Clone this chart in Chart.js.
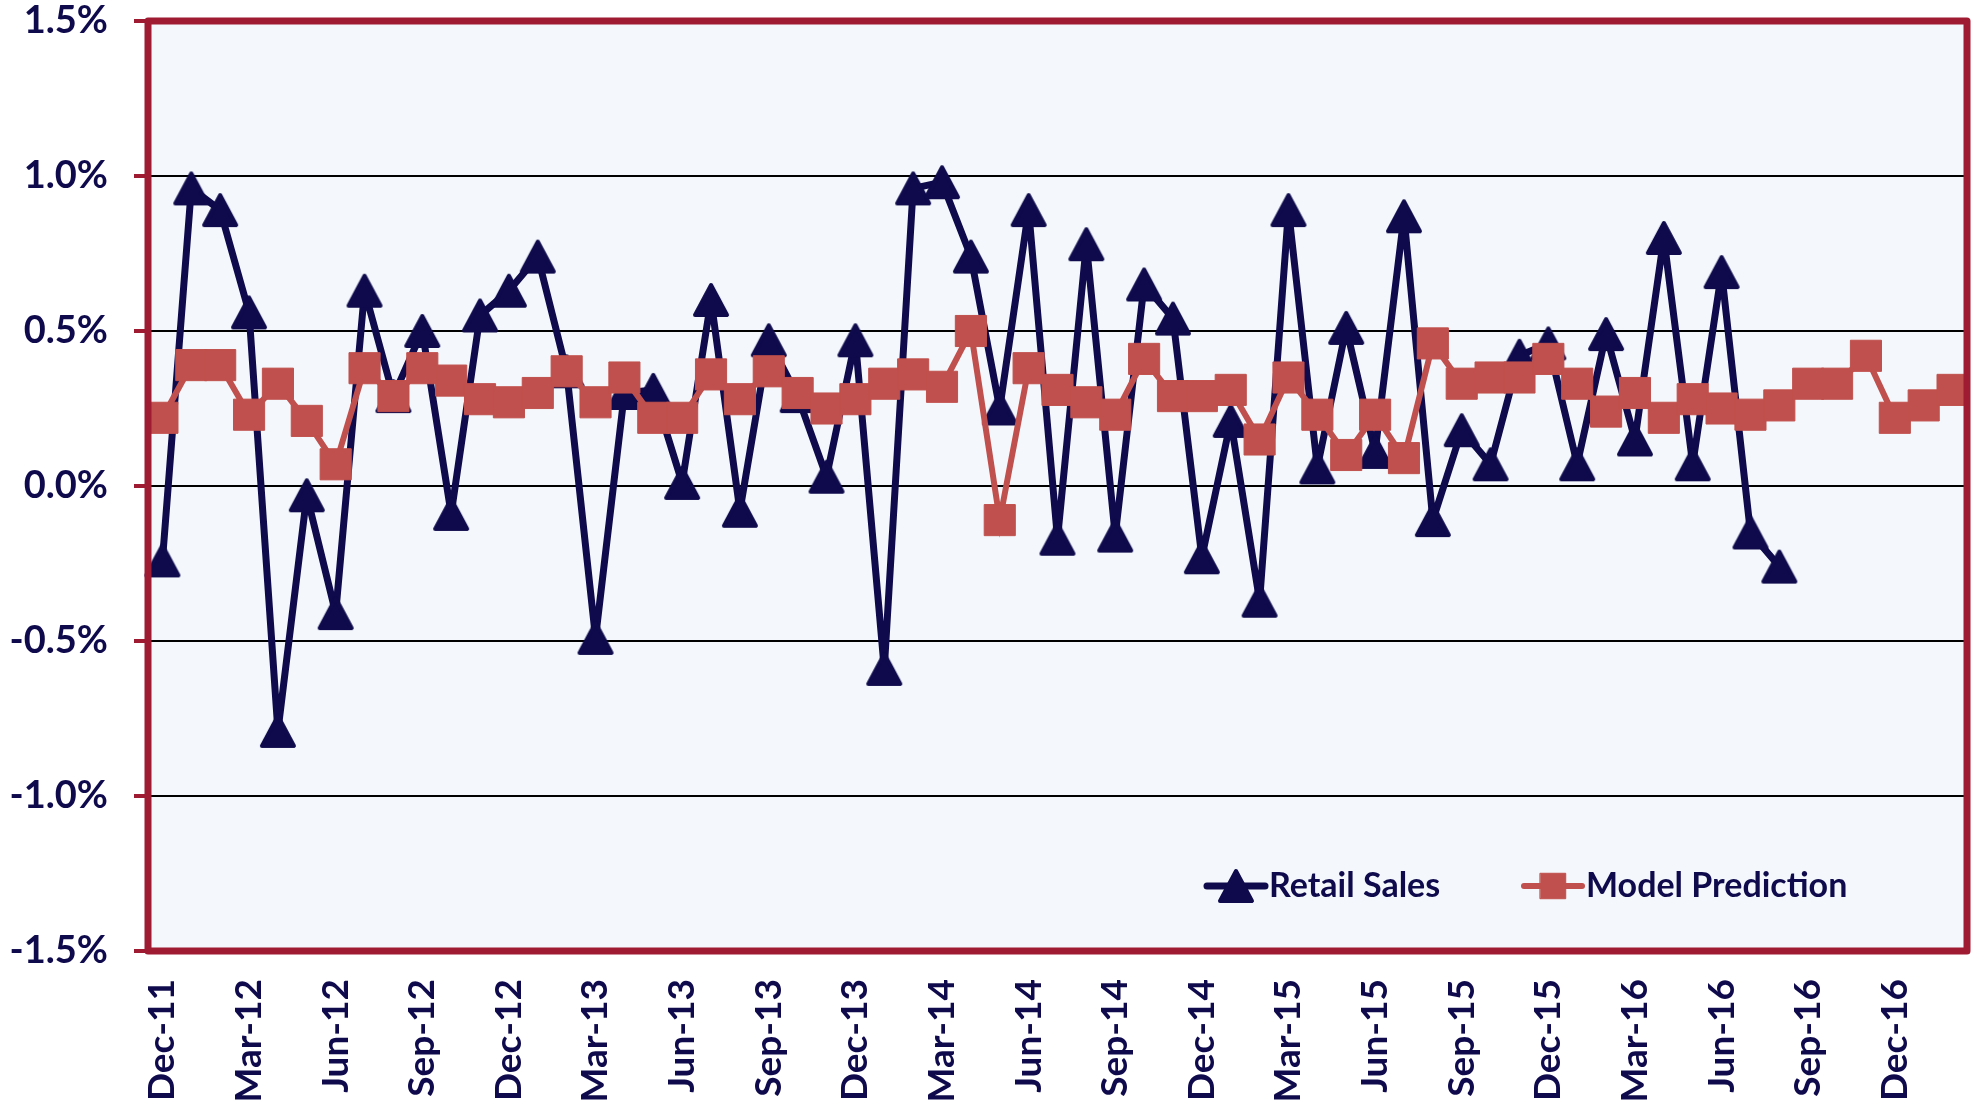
<!DOCTYPE html>
<html>
<head>
<meta charset="utf-8">
<script src="https://cdn.jsdelivr.net/npm/chart.js@4.4.1/dist/chart.umd.min.js"></script>
<style>
  html, body { margin: 0; padding: 0; background: #ffffff; }
  #chart { display: block; }
</style>
</head>
<body>
<canvas id="chart" width="1984" height="1116"></canvas>
<script>
const months = [
  "Dec-11",
  "Jan-12", "Feb-12", "Mar-12", "Apr-12", "May-12", "Jun-12", "Jul-12", "Aug-12", "Sep-12", "Oct-12", "Nov-12", "Dec-12",
  "Jan-13", "Feb-13", "Mar-13", "Apr-13", "May-13", "Jun-13", "Jul-13", "Aug-13", "Sep-13", "Oct-13", "Nov-13", "Dec-13",
  "Jan-14", "Feb-14", "Mar-14", "Apr-14", "May-14", "Jun-14", "Jul-14", "Aug-14", "Sep-14", "Oct-14", "Nov-14", "Dec-14",
  "Jan-15", "Feb-15", "Mar-15", "Apr-15", "May-15", "Jun-15", "Jul-15", "Aug-15", "Sep-15", "Oct-15", "Nov-15", "Dec-15",
  "Jan-16", "Feb-16", "Mar-16", "Apr-16", "May-16", "Jun-16", "Jul-16", "Aug-16", "Sep-16", "Oct-16", "Nov-16", "Dec-16",
  "Jan-17", "Feb-17"
];

// monthly change, in percent
const retailSales = [
  -0.24, 0.96, 0.89, 0.56, -0.79, -0.03, -0.41, 0.63, 0.29, 0.50,
  -0.09, 0.55, 0.63, 0.74, 0.37, -0.49, 0.30, 0.31, 0.01, 0.60,
  -0.08, 0.47, 0.29, 0.03, 0.47, -0.59, 0.96, 0.98, 0.74, 0.25,
  0.89, -0.17, 0.78, -0.16, 0.65, 0.54, -0.23, 0.21, -0.37, 0.89,
  0.06, 0.51, 0.11, 0.87, -0.11, 0.18, 0.07, 0.42, 0.46, 0.07,
  0.49, 0.15, 0.80, 0.07, 0.69, -0.15, -0.26
];

const modelPrediction = [
  0.22, 0.39, 0.39, 0.23, 0.33, 0.21, 0.07, 0.38, 0.29, 0.38,
  0.34, 0.28, 0.27, 0.30, 0.37, 0.27, 0.35, 0.22, 0.22, 0.36,
  0.28, 0.37, 0.30, 0.25, 0.28, 0.33, 0.36, 0.32, 0.50, -0.11,
  0.38, 0.31, 0.27, 0.23, 0.41, 0.29, 0.29, 0.31, 0.15, 0.35,
  0.23, 0.10, 0.23, 0.09, 0.46, 0.33, 0.35, 0.35, 0.41, 0.33,
  0.24, 0.30, 0.22, 0.28, 0.25, 0.23, 0.26, 0.33, 0.33, 0.42,
  0.22, 0.26, 0.31
];

const seriesNames = ["Retail Sales", "Model Prediction"];

const navy = "#0e0a4c";
const brick = "#c0504d";
const frame = "#9e1b32";
const font = "Lato, 'Open Sans', sans-serif";

// Excel-style triangle marker, centred on its box (Chart.js' own one sits high)
function makeTriangle(color) {
  const c = document.createElement("canvas");
  c.width = 38;
  c.height = 36;
  const g = c.getContext("2d");
  g.fillStyle = color;
  g.strokeStyle = color;
  g.lineWidth = 4;
  g.lineJoin = "round";
  g.beginPath();
  g.moveTo(19, 3);
  g.lineTo(35, 33);
  g.lineTo(3, 33);
  g.closePath();
  g.fill();
  g.stroke();
  return c;
}
const triangleMarker = makeTriangle(navy);

// plot background + red frame
const framePlugin = {
  id: "frame",
  beforeDraw(chart) {
    const { ctx, chartArea: a } = chart;
    ctx.save();
    ctx.fillStyle = "#f4f8fc";
    ctx.fillRect(a.left, a.top, a.right - a.left, a.bottom - a.top);
    ctx.restore();
  },
  afterDraw(chart) {
    const { ctx, chartArea: a } = chart;
    ctx.save();
    ctx.strokeStyle = frame;
    ctx.lineWidth = 7;
    ctx.lineJoin = "round";
    ctx.strokeRect(a.left, a.top, a.right - a.left, a.bottom - a.top);
    ctx.restore();
  }
};

// legend sits inside the plot, bottom right
const insideLegend = {
  id: "insideLegend",
  afterDraw(chart) {
    const { ctx } = chart;
    const y = 886;
    const items = [
      { x: 1207, ds: chart.data.datasets[0] },
      { x: 1524, ds: chart.data.datasets[1] }
    ];
    ctx.save();
    items.forEach((it) => {
      const ds = it.ds;
      ctx.strokeStyle = ds.borderColor;
      ctx.lineWidth = ds.borderWidth;
      ctx.lineCap = "round";
      ctx.beginPath();
      ctx.moveTo(it.x, y);
      ctx.lineTo(it.x + 58, y);
      ctx.stroke();
      ctx.fillStyle = ds.pointBackgroundColor;
      ctx.strokeStyle = ds.pointBorderColor;
      ctx.lineWidth = ds.pointBorderWidth;
      ctx.lineJoin = "round";
      Chart.helpers.drawPoint(ctx, {
        pointStyle: ds.pointStyle,
        radius: 18,
        rotation: 0,
        borderWidth: ds.pointBorderWidth
      }, it.x + 29, y);
      ctx.fillStyle = navy;
      ctx.font = "bold 34px " + font;
      ctx.textBaseline = "middle";
      ctx.textAlign = "left";
      ctx.fillText(ds.label, it.x + 62, y);
    });
    ctx.restore();
  }
};

const ctx = document.getElementById("chart").getContext("2d");
const salesChart = new Chart(ctx, {
  type: "line",
  data: {
    labels: months,
    datasets: [
      {
        label: seriesNames[0],
        data: retailSales,
        borderColor: navy,
        backgroundColor: navy,
        borderWidth: 7,
        pointStyle: triangleMarker,
        pointRadius: 19,
        pointBackgroundColor: navy,
        pointBorderColor: navy,
        pointBorderWidth: 0,
        borderJoinStyle: "round",
        tension: 0,
        order: 2
      },
      {
        label: seriesNames[1],
        data: modelPrediction,
        borderColor: brick,
        backgroundColor: brick,
        borderWidth: 6,
        pointStyle: "rect",
        pointRadius: 22,
        pointBackgroundColor: brick,
        pointBorderColor: brick,
        pointBorderWidth: 1,
        tension: 0,
        order: 1
      }
    ]
  },
  options: {
    responsive: false,
    animation: false,
    layout: {
      autoPadding: false,
      padding: { top: 21, right: 17, left: 0, bottom: 0 }
    },
    elements: {
      point: { hoverRadius: 22 }
    },
    scales: {
      x: {
        type: "category",
        offset: true,
        grid: { display: false, drawTicks: false },
        border: { display: false },
        ticks: {
          autoSkip: false,
          minRotation: 90,
          maxRotation: 90,
          padding: 28,
          color: navy,
          font: { family: font, size: 37, weight: "bold" },
          callback: function (value, index) {
            return index % 3 === 0 ? this.getLabelForValue(value) : "";
          }
        },
        afterFit(scale) {
          scale.height = 165;
          scale.paddingLeft = 0;
          scale.paddingRight = 0;
        }
      },
      y: {
        min: -1.5,
        max: 1.5,
        border: { display: false },
        grid: {
          color: (c) => (c.tick && Math.abs(c.tick.value) > 1.4 ? "rgba(0,0,0,0)" : "#000000"),
          lineWidth: 2,
          drawTicks: true,
          tickLength: 14,
          tickColor: frame,
          tickWidth: 4
        },
        ticks: {
          stepSize: 0.5,
          padding: 26,
          color: navy,
          font: { family: font, size: 38, weight: "bold" },
          callback: (v) => v.toFixed(1) + "%"
        },
        afterFit(scale) {
          scale.width = 148;
          scale.paddingTop = 0;
          scale.paddingBottom = 0;
        }
      }
    },
    plugins: {
      legend: { display: false },
      title: { display: false },
      tooltip: { enabled: false }
    }
  },
  plugins: [framePlugin, insideLegend]
});
</script>
</body>
</html>
